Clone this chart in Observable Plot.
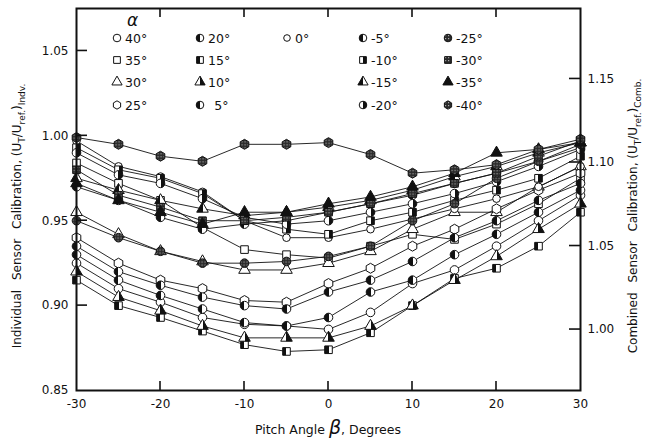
<!DOCTYPE html>
<html><head><meta charset="utf-8">
<script src="https://cdn.jsdelivr.net/npm/d3@7"></script>
<script src="https://cdn.jsdelivr.net/npm/@observablehq/plot@0.6"></script>
<style>
body{margin:0;background:#fff;}
#chart{position:relative;width:646px;height:440px;}
</style></head><body>
<svg width="0" height="0" style="position:absolute">
<defs>
<linearGradient id="halfL" x1="0" y1="0" x2="1" y2="0"><stop offset="0.5" stop-color="#111"/><stop offset="0.5" stop-color="#fff"/></linearGradient>
<linearGradient id="halfR" x1="0" y1="0" x2="1" y2="0"><stop offset="0.5" stop-color="#fff"/><stop offset="0.5" stop-color="#111"/></linearGradient>
<pattern id="tex" width="3" height="3" patternUnits="userSpaceOnUse"><rect width="3" height="3" fill="#2a2a2a"/><rect width="1.2" height="1.2" fill="#aaa"/></pattern>
</defs></svg>
<div id="chart"></div>
<script>
// ---- data ----
const beta = [-30,-25,-20,-15,-10,-5,0,5,10,15,20,25,30];
const alphas = [40,35,30,25,20,15,10,5,0,-5,-10,-15,-20,-25,-30,-35,-40];
const u40  = [0.925,0.910,0.902,0.893,0.889,0.888,0.886,0.896,0.913,0.921,0.935,0.950,0.965];
const u35  = [0.984,0.972,0.962,0.946,0.933,0.930,0.928,0.935,0.942,0.939,0.948,0.960,0.975];
const u30  = [0.955,0.942,0.932,0.926,0.921,0.921,0.925,0.932,0.945,0.955,0.955,0.970,0.982];
const u25  = [0.940,0.925,0.915,0.910,0.903,0.902,0.913,0.922,0.935,0.945,0.957,0.968,0.978];
const u20  = [0.930,0.915,0.906,0.898,0.890,0.888,0.893,0.908,0.915,0.930,0.942,0.955,0.968];
const u15  = [0.915,0.900,0.893,0.885,0.877,0.873,0.874,0.884,0.900,0.916,0.922,0.935,0.955];
const u10  = [0.920,0.905,0.897,0.888,0.881,0.881,0.881,0.888,0.900,0.915,0.929,0.945,0.960];
const u5   = [0.935,0.920,0.912,0.905,0.900,0.898,0.908,0.915,0.926,0.940,0.950,0.962,0.972];
const u0   = [0.997,0.982,0.976,0.967,0.950,0.940,0.940,0.945,0.951,0.957,0.963,0.970,0.982];
const um5  = [0.970,0.962,0.952,0.945,0.948,0.950,0.955,0.960,0.965,0.972,0.978,0.985,0.993];
const um10 = [0.993,0.980,0.975,0.966,0.950,0.945,0.942,0.950,0.955,0.962,0.968,0.975,0.988];
const um15 = [0.975,0.968,0.962,0.957,0.953,0.955,0.958,0.962,0.968,0.976,0.982,0.990,0.996];
const um20 = [0.990,0.977,0.972,0.963,0.952,0.948,0.950,0.955,0.960,0.966,0.973,0.982,0.992];
const um25 = [0.950,0.940,0.932,0.925,0.925,0.926,0.929,0.935,0.950,0.960,0.975,0.985,0.995];
const um30 = [0.980,0.965,0.958,0.950,0.950,0.952,0.955,0.960,0.966,0.972,0.978,0.988,0.997];
const um35 = [0.972,0.962,0.955,0.948,0.955,0.955,0.960,0.964,0.970,0.978,0.990,0.992,0.996];
const um40 = [0.999,0.995,0.988,0.985,0.995,0.995,0.996,0.989,0.978,0.980,0.983,0.992,0.998];
const seriesValues = [u40,u35,u30,u25,u20,u15,u10,u5,u0,um5,um10,um15,um20,um25,um30,um35,um40];
const legendLabels = ["40°","35°","30°","25°","20°","15°","10°","5°","0°","-5°","-10°","-15°","-20°","-25°","-30°","-35°","-40°"];
const xTicks = [-30,-20,-10,0,10,20,30];
const xInnerTicks = [-20,-10,0,10,20];
const yTicks = [0.85,0.90,0.95,1.00,1.05];
const yInnerTicks = [0.90,0.95,1.00,1.05];
const rightTicks = [1.00,1.05,1.10,1.15];

// ---- styles ----
const symbols = ["circle","square","triangle","hexagon","circle","square","triangle","circle","circle","circle","square","triangle","circle","circle","square","triangle","hexagon"];
const fills = ["#fff","#fff","#fff","#fff","url(#halfL)","url(#halfL)","url(#halfR)","url(#halfL)","#fff","url(#halfL)","url(#halfR)","url(#halfL)","url(#halfR)","url(#tex)","url(#tex)","#111","url(#tex)"];

// right axis (combined) mapped onto left scale
const toLeft = r => 0.8859 + (r - 1) * 0.984;
const toRight = l => (l - 0.8859) / 0.984 + 1;

const rows = [];
alphas.forEach((a, k) => seriesValues[k].forEach((v, i) => rows.push({alpha: a, beta: beta[i], u: v})));

const FONT = "DejaVu Sans";
const plot = Plot.plot({
  width: 646, height: 440,
  marginLeft: 76, marginRight: 66, marginTop: 8, marginBottom: 50,
  x: {domain: [-30, 30]},
  y: {domain: [0.85, 1.075]},
  style: {fontFamily: FONT, fontSize: "12px", color: "#111", background: "#fff"},
  marks: [
    Plot.line(rows, {x: "beta", y: "u", z: "alpha", stroke: "#111", strokeWidth: 0.9}),
    ...alphas.map((a, k) => Plot.dot(rows.filter(d => d.alpha === a), {
      x: "beta", y: "u", symbol: symbols[k], r: a === 0 ? 3.8 : 4.3,
      fill: fills[k], stroke: "#111", strokeWidth: 1
    })),
    Plot.axisX({anchor: "bottom", ticks: xTicks, tickSize: 0, tickPadding: 9, tickFormat: d => String(d), label: null}),
    Plot.axisY({anchor: "left", ticks: yTicks, tickSize: 0, tickPadding: 8, tickFormat: d3.format(".2f"), label: null}),
    Plot.axisY({anchor: "right", ticks: rightTicks.map(toLeft), tickSize: 0, tickPadding: 7, tickFormat: d => toRight(d).toFixed(2), label: null}),
    Plot.frame({stroke: "#111", strokeWidth: 2})
  ]
});
document.getElementById("chart").appendChild(plot);

// ---- inward ticks drawn through the plot's own scales ----
const svg = d3.select(plot);
const sx = plot.scale("x"), sy = plot.scale("y");
const X0 = sx.apply(-30), X1 = sx.apply(30), Y0 = sy.apply(0.85), Y1 = sy.apply(1.075);
const tk = svg.append("g").attr("stroke", "#111").attr("stroke-width", 1.6);
xInnerTicks.forEach(v => {
  const x = sx.apply(v);
  tk.append("line").attr("x1", x).attr("x2", x).attr("y1", Y0).attr("y2", Y0 - 9);
  tk.append("line").attr("x1", x).attr("x2", x).attr("y1", Y1).attr("y2", Y1 + 9);
});
yInnerTicks.forEach(v => {
  const y = sy.apply(v);
  tk.append("line").attr("x1", X0).attr("x2", X0 + 11).attr("y1", y).attr("y2", y);
});
rightTicks.forEach(v => {
  const y = sy.apply(toLeft(v));
  tk.append("line").attr("x1", X1).attr("x2", X1 - 11).attr("y1", y).attr("y2", y);
});

// ---- axis titles & legend ----
function richText(g, parts) {
  const t = g.append("text").attr("font-family", FONT).attr("fill", "#111");
  let shifted = 0;
  parts.forEach(p => {
    const ts = t.append("tspan").text(p.t).attr("font-size", p.size || 12);
    const target = p.sub ? 4 : 0;
    if (target !== shifted) { ts.attr("dy", target - shifted); shifted = target; }
    if (p.style) ts.attr("font-style", p.style);
  });
  return t;
}
richText(svg.append("g").attr("transform", "translate(21,216) rotate(-90)"), [
  {t: "Individual\u2002 Sensor\u2002 Calibration, (U"}, {t: "T", sub: true, size: 9},
  {t: "/U"}, {t: "ref.", sub: true, size: 9}, {t: ")"}, {t: "Indv.", sub: true, size: 9}
]).attr("text-anchor", "middle");
richText(svg.append("g").attr("transform", "translate(637,216) rotate(-90)"), [
  {t: "Combined\u2002 Sensor\u2002 Calibration, (U"}, {t: "T", sub: true, size: 9},
  {t: "/U"}, {t: "ref.", sub: true, size: 9}, {t: ")"}, {t: "Comb.", sub: true, size: 9}
]).attr("text-anchor", "middle");
richText(svg.append("g").attr("transform", "translate(328,434)"), [
  {t: "Pitch Angle ", size: 12.5}, {t: "β", size: 19, style: "italic"}, {t: ", Degrees", size: 12.5}
]).attr("text-anchor", "middle");

// legend
const lg = svg.append("g").attr("font-family", FONT).attr("font-size", 12.5).attr("fill", "#111").attr("text-anchor", "start");
lg.append("text").attr("x", 127).attr("y", 26).attr("font-size", 17).attr("font-style", "italic").text("α");
const colX = [117, 200, 287, 363, 448];
const rowY = [38, 60, 82, 105];
const hexPath = r => { const p = []; for (let i = 0; i < 6; i++) { const a = Math.PI / 3 * i; p.push([r * Math.sin(a), -r * Math.cos(a)]); } return "M" + p.map(q => q.join(",")).join("L") + "Z"; };
const d3sym = {circle: d3.symbolCircle, square: d3.symbolSquare, triangle: d3.symbolTriangle};
const place = k => {
  if (k < 4) return [0, k];
  if (k < 8) return [1, k - 4];
  if (k === 8) return [2, 0];
  if (k < 13) return [3, k - 9];
  return [4, k - 13];
};
alphas.forEach((a, k) => {
  const [c, r] = place(k);
  const x = colX[c], y = rowY[r];
  const rr = a === 0 ? 3.3 : 3.8;
  const d = symbols[k] === "hexagon" ? hexPath(rr * 1.1) : d3.symbol(d3sym[symbols[k]], Math.PI * rr * rr)();
  lg.append("path").attr("d", d).attr("transform", `translate(${x},${y})`)
    .attr("fill", fills[k]).attr("stroke", "#111").attr("stroke-width", 1);
  lg.append("text").attr("x", x + 8).attr("y", y + 4.5).text((a === 5 ? "\u2002" : "") + legendLabels[k]);
});
</script>
</body></html>
